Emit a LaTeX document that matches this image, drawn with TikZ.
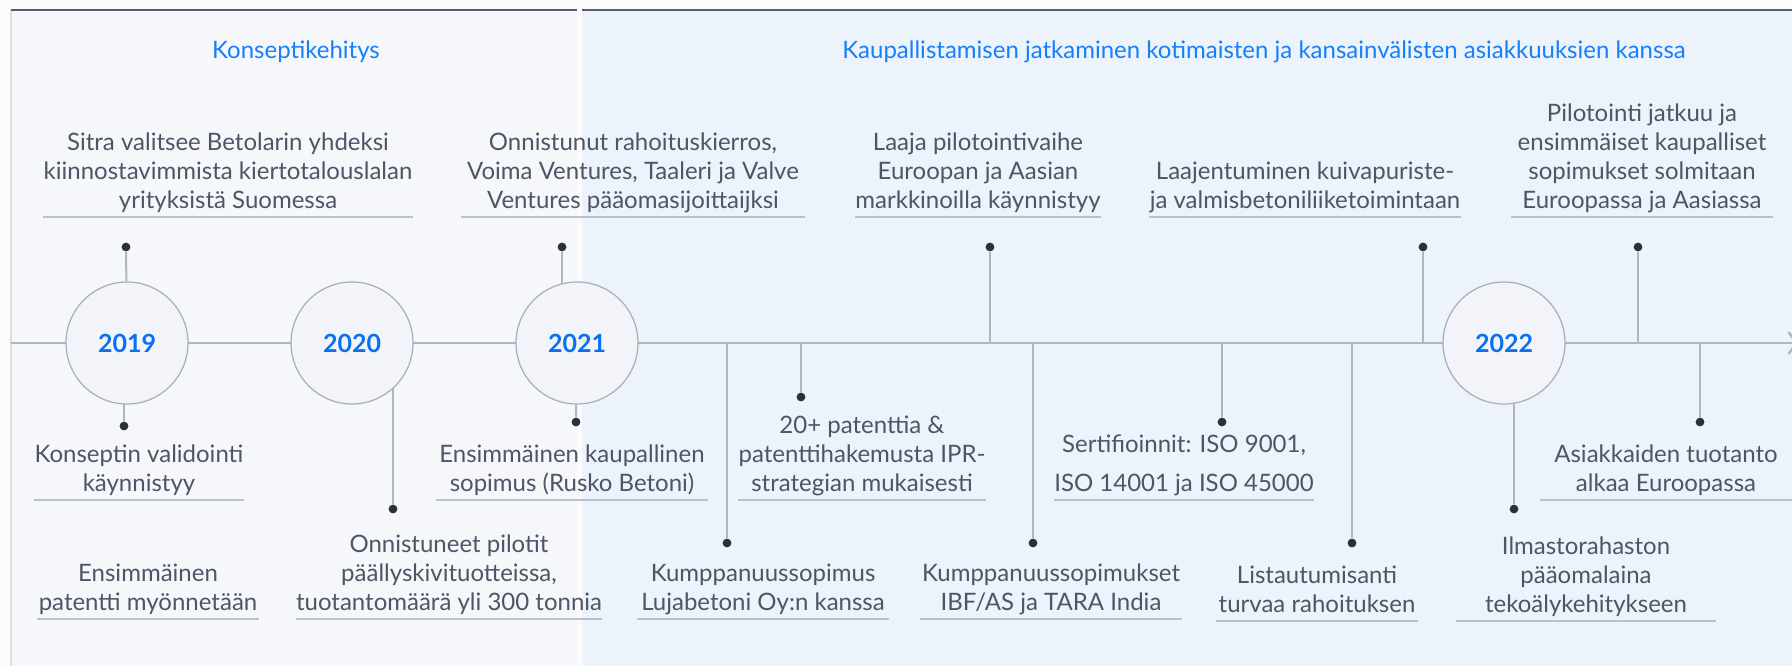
\documentclass[tikz,border=0pt]{standalone}
\usepackage{fontspec}
\setmainfont{Lato}
\usetikzlibrary{arrows.meta}
\pgfdeclarelayer{background}
\pgfdeclarelayer{foreground}
\pgfsetlayers{background,main,foreground}
\definecolor{pageback}{HTML}{FBFBFC}
\definecolor{leftback}{HTML}{F6F7FB}
\definecolor{rightback}{HTML}{EDF3FB}
\definecolor{topbar}{HTML}{565C6C}
\definecolor{txt}{HTML}{4F5566}
\definecolor{headblue}{HTML}{1680FA}
\definecolor{yearblue}{HTML}{0A70EE}
\definecolor{stemgray}{HTML}{AFB5C3}
\definecolor{rulegray}{HTML}{BCC1CD}
\definecolor{dotgray}{HTML}{2B303A}
\definecolor{ringfill}{HTML}{F3F4F9}
\definecolor{ringdraw}{HTML}{A7ADBD}
\newcommand{\EvFont}{\fontsize{12}{14.5}\selectfont}
\newcommand{\EvStrut}{\rule[-4pt]{0pt}{1pt}}
\tikzset{
    rule/.style={draw=rulegray, line width=0.7pt},
    stem/.style={draw=stemgray, line width=1pt},
    dot/.style={circle, fill=dotgray, inner sep=0pt, minimum size=4.4pt},
    year/.style={circle, draw=ringdraw, fill=ringfill, line width=0.6pt,
        minimum size=61pt, inner sep=0pt, text=yearblue, font=\fontsize{12.5}{15}\selectfont\bfseries},
    heading/.style={text=headblue, font=\EvFont, inner sep=0pt},
}

\begin{document}
\begin{tikzpicture}[x=0.5pt, y=-0.5pt]
    \tikzset{
      event/.style={align=center, minimum width=#1, inner xsep=0pt, inner ysep=0pt,
          anchor=south, text=txt, font=\EvFont, execute at end node=\EvStrut,
          append after command={(\tikzlastnode.south west) edge[rule] (\tikzlastnode.south east)}},
    }
    \useasboundingbox (0,0) rectangle (1792,666);

    \begin{pgfonlayer}{background}
      \fill[pageback] (0,0) rectangle (1792,666);
      \fill[leftback] (11,10) rectangle (577,666);
      \fill[rightback] (582,10) rectangle (1792,666);
      \draw[ringdraw!40, line width=0.8pt] (11,10) -- (11,666);
      \draw[topbar, line width=1.1pt] (11,10) -- (577,10);
      \draw[topbar, line width=1.1pt] (582,10) -- (1792,10);
    \end{pgfonlayer}

    \node[heading] (h1) at (296,52) {Konseptikehitys};
    \node[heading] (h2) at (1264,52) {Kaupallistamisen jatkaminen kotimaisten ja kansainvälisten asiakkuuksien kanssa};

    \coordinate (ax0) at (11,343);
    \coordinate (ax1) at (1798,343);

    % years
    \node[year] (y19) at (127,343) {2019};
    \node[year] (y20) at (352,343) {2020};
    \node[year] (y21) at (577,343) {2021};
    \node[year] (y22) at (1504,343) {2022};

    % dots above the line
    \node[dot] (d1) at (126,247) {};
    \node[dot] (d2) at (562,247) {};
    \node[dot] (d3) at (990,247) {};
    \node[dot] (d4) at (1423,247) {};
    \node[dot] (d5) at (1638,247) {};
    % dots below the line
    \node[dot] (d6) at (124,426) {};
    \node[dot] (d8) at (393,509) {};
    \node[dot] (d9) at (576,422) {};
    \node[dot] (d10) at (727,543) {};
    \node[dot] (d11) at (801,397) {};
    \node[dot] (d12) at (1033,543) {};
    \node[dot] (d13) at (1222,422) {};
    \node[dot] (d14) at (1352,543) {};
    \node[dot] (d15) at (1514,509) {};
    \node[dot] (d16) at (1700,422) {};

    \node[event=182pt] (t1) at (228,217) {Sitra valitsee Betolarin yhdeksi\\ kiinnostavimmista kiertotalouslalan\\ yrityksistä Suomessa};
    \node[event=172pt] (t2) at (633,217) {Onnistunut rahoituskierros,\\ Voima Ventures, Taaleri ja Valve\\ Ventures pääomasijoittaijksi};
    \node[event=121pt] (t3) at (978,217) {Laaja pilotointivaihe\\ Euroopan ja Aasian\\ markkinoilla käynnistyy};
    \node[event=156pt] (t4) at (1305,217) {Laajentuminen kuivapuriste-\\ ja valmisbetoniliiketoimintaan};
    \node[event=131pt] (t5) at (1642,217) {Pilotointi jatkuu ja\\ ensimmäiset kaupalliset\\ sopimukset solmitaan\\ Euroopassa ja Aasiassa};
    \node[event=103pt] (t6) at (139,500) {Konseptin validointi\\ käynnistyy};
    \node[event=111pt] (t7) at (148,619) {Ensimmäinen\\ patentti myönnetään};
    \node[event=151pt] (t8) at (449,619) {Onnistuneet pilotit\\ päällyskivituotteissa,\\ tuotantomäärä yli 300 tonnia};
    \node[event=136pt] (t9) at (572,500) {Ensimmäinen kaupallinen\\ sopimus (Rusko Betoni)};
    \node[event=126pt] (t10) at (763,619) {Kumppanuussopimus\\ Lujabetoni Oy:n kanssa};
    \node[event=123pt] (t11) at (862,500) {20+ patenttia \&\\ patenttihakemusta IPR-\\ strategian mukaisesti};
    \node[event=131pt] (t12) at (1051,619) {Kumppanuussopimukset\\ IBF/AS ja TARA India};
    \node[event=126pt] (t13) at (1184,500) {Sertifioinnit: ISO 9001,\\[5pt] ISO 14001 ja ISO 45000};
    \node[event=101pt] (t14) at (1317,621) {Listautumisanti\\ turvaa rahoituksen};
    \node[event=130pt] (t15) at (1586,621) {Ilmastorahaston\\ pääomalaina\\ tekoälykehitykseen};
    \node[event=126pt] (t16) at (1666,500) {Asiakkaiden tuotanto\\ alkaa Euroopassa};

    \begin{pgfonlayer}{background}
      \draw[stem, line width=1.2pt, -{Straight Barb[length=4pt, width=11pt]}] (ax0) -- (ax1);
      \draw[stem] (d1) -- (y19);
      \draw[stem] (d2) -- (d2 |- y21);
      \draw[stem] (d3) -- (d3 |- ax0);
      \draw[stem] (d4) -- (d4 |- ax0);
      \draw[stem] (d5) -- (d5 |- ax0);
      \draw[stem] (d6) -- (d6 |- y19);
      \draw[stem] (d8) -- (d8 |- y20);
      \draw[stem] (d9) -- (y21);
      \draw[stem] (d10) -- (d10 |- ax0);
      \draw[stem] (d11) -- (d11 |- ax0);
      \draw[stem] (d12) -- (d12 |- ax0);
      \draw[stem] (d13) -- (d13 |- ax0);
      \draw[stem] (d14) -- (d14 |- ax0);
      \draw[stem] (d15) -- (d15 |- y22);
      \draw[stem] (d16) -- (d16 |- ax0);
    \end{pgfonlayer}
  \end{tikzpicture}
\end{document}
